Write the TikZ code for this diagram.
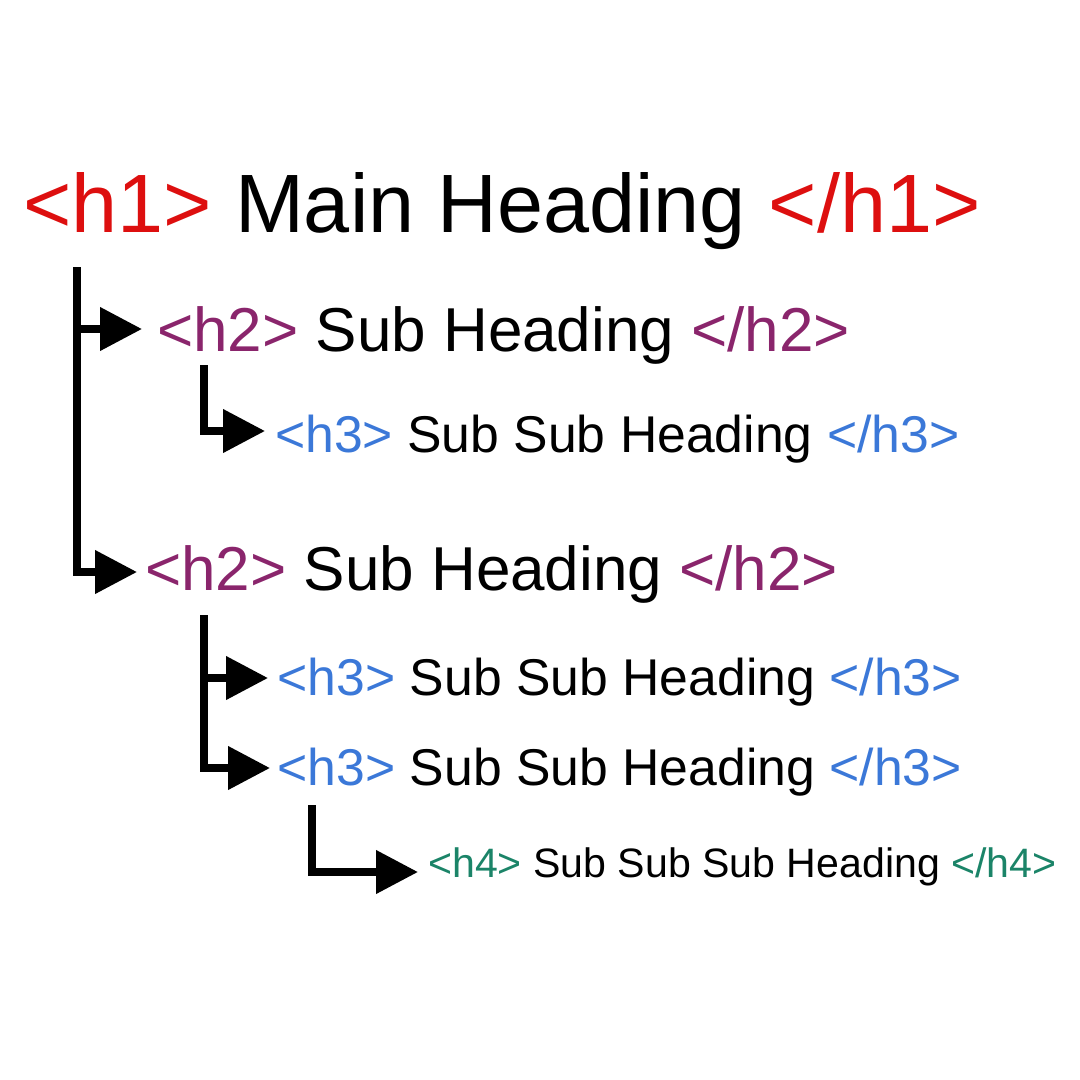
\documentclass[tikz,border=0pt]{standalone}
\usepackage{fontspec}
\setmainfont{Liberation Sans}
\usetikzlibrary{arrows.meta}

\definecolor{tagone}{HTML}{DD0F0F}
\definecolor{tagtwo}{HTML}{8A256C}
\definecolor{tagthree}{HTML}{3B78D8}
\definecolor{tagfour}{HTML}{1B8468}

\tikzset{
  heading/.style={inner sep=0pt, anchor=base west},
  branch/.style={line width=7.5pt, -{Triangle[length=42pt,width=42pt]}},
}

\begin{document}
\begin{tikzpicture}[x=1pt,y=-1pt]
    % cadre 1080 x 1080, coordonnees en pixels
    \useasboundingbox (0,0) rectangle (1080,1080);

    % les titres
    \node[heading, font=\fontsize{82.8}{90}\selectfont] (h1) at (23,232)
        {\textcolor{tagone}{<h1>} Main Heading \textcolor{tagone}{</h1>}};
    \node[heading, font=\fontsize{62}{70}\selectfont] (h2a) at (157,351)
        {\textcolor{tagtwo}{<h2>} Sub Heading \textcolor{tagtwo}{</h2>}};
    \node[heading, font=\fontsize{51.7}{60}\selectfont] (h3a) at (275,452)
        {\textcolor{tagthree}{<h3>} Sub Sub Heading \textcolor{tagthree}{</h3>}};
    \node[heading, font=\fontsize{62}{70}\selectfont] (h2b) at (145,590)
        {\textcolor{tagtwo}{<h2>} Sub Heading \textcolor{tagtwo}{</h2>}};
    \node[heading, font=\fontsize{51.7}{60}\selectfont] (h3b) at (277.5,695)
        {\textcolor{tagthree}{<h3>} Sub Sub Heading \textcolor{tagthree}{</h3>}};
    \node[heading, font=\fontsize{51.7}{60}\selectfont] (h3c) at (277.5,785)
        {\textcolor{tagthree}{<h3>} Sub Sub Heading \textcolor{tagthree}{</h3>}};
    \node[heading, font=\fontsize{41.1}{48}\selectfont] (h4) at (428,877)
        {\textcolor{tagfour}{<h4>} Sub Sub Sub Heading \textcolor{tagfour}{</h4>}};

    % les fleches
    \draw[branch] ([xshift=54pt,yshift=-35pt]h1.base west) |- ([xshift=-15pt,yshift=22pt]h2a.base west);
    \draw[branch] ([xshift=54pt,yshift=-35pt]h1.base west) |- ([xshift=-8pt,yshift=18pt]h2b.base west);

    \draw[branch] ([xshift=47pt,yshift=-14pt]h2a.base west) |- ([xshift=-10pt,yshift=21pt]h3a.base west);

    \draw[branch] ([xshift=59pt,yshift=-25pt]h2b.base west) |- ([xshift=-9.5pt,yshift=17pt]h3b.base west);
    \draw[branch] ([xshift=59pt,yshift=-25pt]h2b.base west) |- ([xshift=-7.5pt,yshift=17pt]h3c.base west);

    \draw[branch] ([xshift=34.5pt,yshift=-20pt]h3c.base west) |- ([xshift=-10pt,yshift=5pt]h4.base west);
\end{tikzpicture}
\end{document}
